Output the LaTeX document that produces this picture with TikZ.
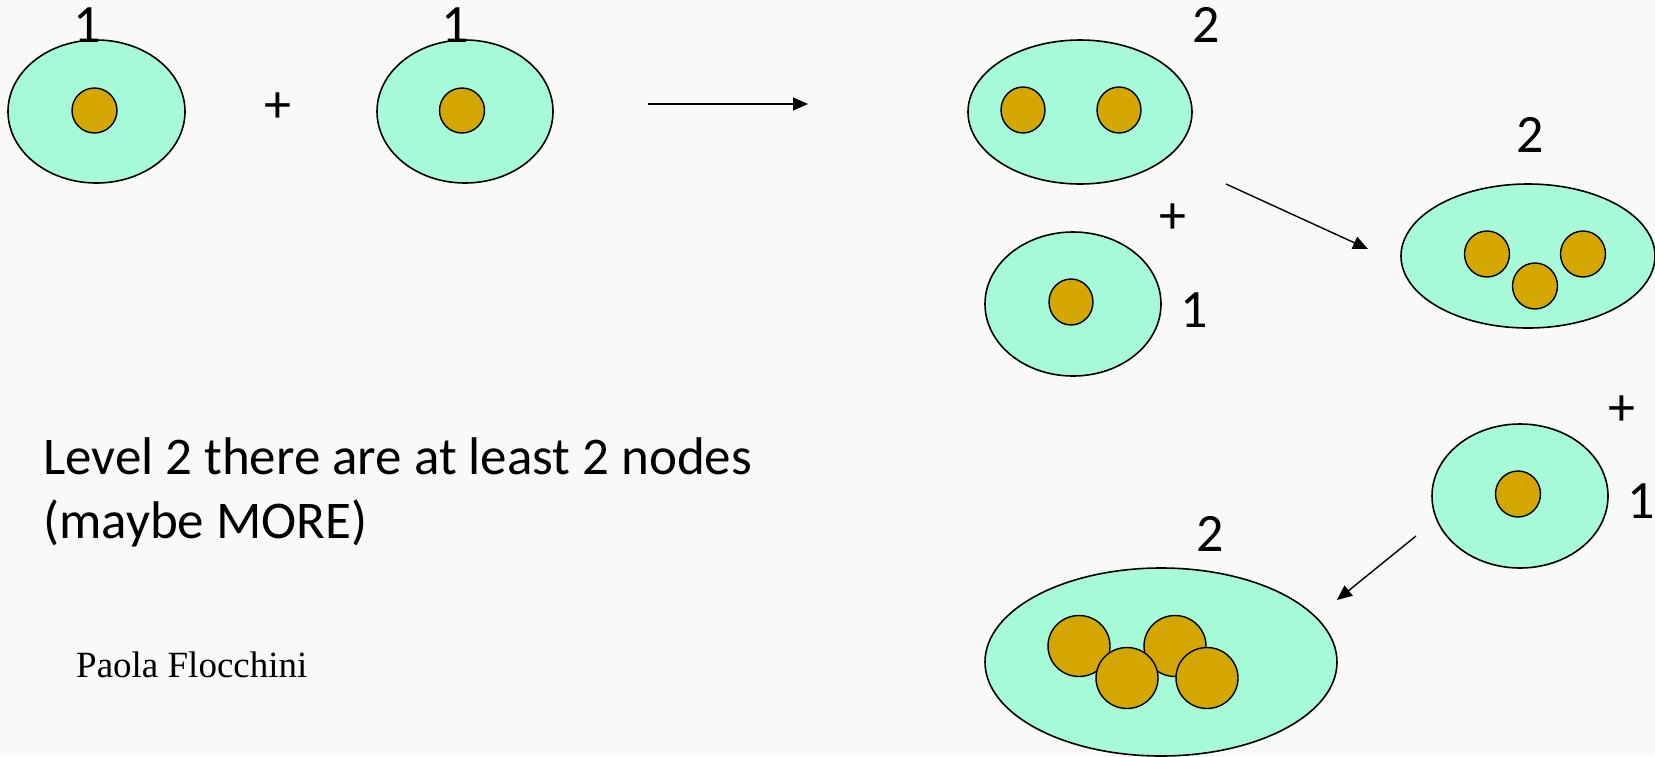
\documentclass[tikz,border=0pt]{standalone}
\usepackage{fontspec}
\setmainfont{Carlito}
\newfontfamily\serifname{Liberation Serif}
\usetikzlibrary{shapes.geometric,arrows.meta}
\definecolor{bgcol}{RGB}{249,249,249}
\definecolor{cellfill}{RGB}{166,250,216}
\definecolor{corefill}{RGB}{212,166,0}
\tikzset{
  cell/.style={ellipse,draw=black,line width=1.6pt,fill=cellfill,inner sep=0pt},
  core/.style={ellipse,draw=black,line width=1.4pt,fill=corefill,inner sep=0pt},
  digit/.style={anchor=base,inner sep=0pt,font=\fontsize{54}{60}\selectfont},
  plus/.style={inner sep=0pt,font=\fontsize{54}{60}\selectfont},
  flow/.style={line width=1.4pt,-{Triangle[length=15pt,width=13pt]}},
  caption/.style={anchor=base west,inner sep=0pt,font=\fontsize{53}{60}\selectfont},
}
\begin{document}
\begin{tikzpicture}[x=1pt,y=-1pt]
  \fill[bgcol] (0,0) rectangle (1655,756);
  \useasboundingbox (0,0) rectangle (1655,756);

  % two single cells
  \node[cell,minimum width=177pt,minimum height=143pt] (c1) at (96.5,111.5) {};
  \node[core,minimum width=45pt,minimum height=45pt] (c1a) at (94.5,110.5) {};
  \node[digit] (l1) at (87,42) {1};
  \node[plus] (p1) at (278,108) {+};
  \node[cell,minimum width=176pt,minimum height=143pt] (c2) at (465,111.5) {};
  \node[core,minimum width=45pt,minimum height=45pt] (c2a) at (462,110.5) {};
  \node[digit] (l2) at (455,42) {1};

  \coordinate (a1s) at (648,104);
  \coordinate (a1e) at (808,104);
  \draw[flow] (a1s) -- (a1e);

  % merged pair
  \node[cell,minimum width=224pt,minimum height=144pt] (c3) at (1080,112) {};
  \node[core,minimum width=44pt,minimum height=46pt] (c3a) at (1023,110) {};
  \node[core,minimum width=44pt,minimum height=46pt] (c3b) at (1119,110) {};
  \node[digit] (l3) at (1206,42) {2};

  \node[plus] (p2) at (1173,219) {+};
  \node[cell,minimum width=176pt,minimum height=144pt] (c4) at (1073,304) {};
  \node[core,minimum width=44pt,minimum height=46pt] (c4a) at (1071,302) {};
  \node[digit] (l4) at (1194,327) {1};

  \coordinate (a2s) at (1226,184);
  \coordinate (a2e) at (1368,249);
  \draw[flow] (a2s) -- (a2e);

  % triple
  \node[cell,minimum width=254pt,minimum height=144pt] (c5) at (1528,256) {};
  \node[core,minimum width=45pt,minimum height=46pt] (c5a) at (1487,254) {};
  \node[core,minimum width=45pt,minimum height=46pt] (c5b) at (1583,254) {};
  \node[core,minimum width=45pt,minimum height=46pt] (c5c) at (1535,286) {};
  \node[digit] (l5) at (1530,152) {2};

  \node[plus] (p3) at (1622,411) {+};
  \node[cell,minimum width=176pt,minimum height=144pt] (c6) at (1520,496) {};
  \node[core,minimum width=45pt,minimum height=46pt] (c6a) at (1518,494) {};
  \node[digit] (l6) at (1641,518) {1};

  \coordinate (a3s) at (1416,536);
  \coordinate (a3e) at (1337,600);
  \draw[flow] (a3s) -- (a3e);

  % quadruple
  \node[cell,minimum width=352pt,minimum height=188pt] (c7) at (1161,662) {};
  \node[core,minimum width=62pt,minimum height=61pt] (c7a) at (1079,646) {};
  \node[core,minimum width=62pt,minimum height=61pt] (c7b) at (1175,646) {};
  \node[core,minimum width=62pt,minimum height=61pt] (c7c) at (1127,678) {};
  \node[core,minimum width=62pt,minimum height=61pt] (c7d) at (1207,678) {};
  \node[digit] (l7) at (1210,551) {2};

  % caption text
  \node[caption] (t1) at (43,474) {Level 2 there are at least 2 nodes};
  \node[caption] (t2) at (43,538) {(maybe MORE)};
  \node[anchor=base west,inner sep=0pt,font=\serifname\fontsize{37}{43}\selectfont] (t3) at (76,677) {Paola Flocchini};
\end{tikzpicture}
\end{document}
